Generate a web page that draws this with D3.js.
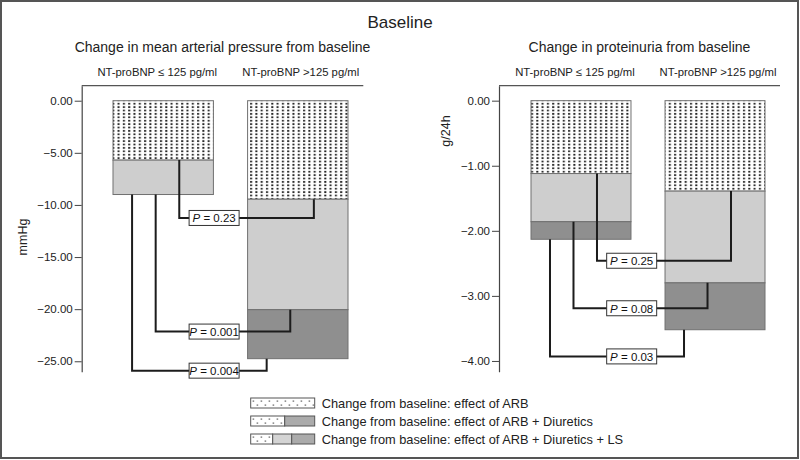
<!DOCTYPE html>
<html>
<head>
<meta charset="utf-8">
<script src="https://cdn.jsdelivr.net/npm/d3@7"></script>
<style>
  body { margin: 0; background: #fff; }
</style>
</head>
<body>
<div id="chart"></div>
<script>
// groups and legend entries
const groups = ["NT-proBNP \u2264 125 pg/ml", "NT-proBNP >125 pg/ml"];
const seriesNames = [
  "Change from baseline: effect of ARB",
  "Change from baseline: effect of ARB + Diuretics",
  "Change from baseline: effect of ARB + Diuretics + LS"
];

// mean arterial pressure (mmHg)
const mapArb = [-5.7, -9.45];
const mapArbDiu = [-9.0, -20.05];
const mapArbDiuLs = [-9.0, -24.75];
const mapTicks = [0, -5, -10, -15, -20, -25];
const mapP = ["0.23", "0.001", "0.004"];
const mapPLevels = [-11.25, -22.15, -25.9];

// proteinuria (g/24h)
const protArb = [-1.12, -1.39];
const protArbDiu = [-1.86, -2.8];
const protArbDiuLs = [-2.13, -3.52];
const protTicks = [0, -1, -2, -3, -4];
const protP = ["0.25", "0.08", "0.03"];
const protPLevels = [-2.46, -3.19, -3.93];

const fillColors = ["url(#dots)", "#cecece", "#8f8f8f"];

const svg = d3.select("#chart").append("svg")
  .attr("width", 800)
  .attr("height", 460)
  .style("font-family", "'Liberation Sans', Arial, sans-serif");

const defs = svg.append("defs");
const dots = defs.append("pattern")
  .attr("id", "dots")
  .attr("patternUnits", "userSpaceOnUse")
  .attr("width", 5.3).attr("height", 3.4);
dots.append("rect").attr("width", 5.3).attr("height", 3.4).attr("fill", "#fff");
dots.append("rect").attr("x", 1).attr("y", 0.8).attr("width", 2).attr("height", 1.8).attr("fill", "#262626");

const sparse = defs.append("pattern")
  .attr("id", "sparse")
  .attr("patternUnits", "userSpaceOnUse")
  .attr("width", 8).attr("height", 8);
sparse.append("rect").attr("width", 8).attr("height", 8).attr("fill", "#fff");
sparse.append("rect").attr("x", 2).attr("y", 2.5).attr("width", 1.2).attr("height", 1.2).attr("fill", "#333");
sparse.append("rect").attr("x", 6).attr("y", 6.5).attr("width", 1.2).attr("height", 1.2).attr("fill", "#333");

// outer frame
svg.append("rect")
  .attr("x", 1).attr("y", 1).attr("width", 797).attr("height", 457)
  .attr("fill", "none").attr("stroke", "#555").attr("stroke-width", 2);

svg.append("text")
  .attr("x", 400).attr("y", 28)
  .attr("text-anchor", "middle")
  .style("font-size", "17px").attr("fill", "#222")
  .text("Baseline");

function drawPanel(p) {
  const g = svg.append("g");

  const x = d3.scaleBand()
    .domain(groups)
    .range(p.band)
    .paddingInner(0.254)
    .paddingOuter(0);

  const y = d3.scaleLinear()
    .domain(p.domain)
    .range([85.7, 371.7]);

  // panel title and group labels
  g.append("text")
    .attr("x", (p.axisX + p.right) / 2).attr("y", 52.3)
    .attr("text-anchor", "middle")
    .style("font-size", "14px").attr("fill", "#222")
    .text(p.title);

  g.selectAll(".grp")
    .data(groups)
    .enter().append("text")
    .attr("class", "grp")
    .attr("x", (d, i) => x(d) + x.bandwidth() / 2 + (i === 0 ? -6 : 3))
    .attr("y", 76)
    .attr("text-anchor", "middle")
    .style("font-size", "11.3px").attr("fill", "#222")
    .text(d => d);

  // top frame line
  g.append("line")
    .attr("x1", p.axisX).attr("x2", p.right)
    .attr("y1", 85.7).attr("y2", 85.7)
    .attr("stroke", "#555").attr("stroke-width", 1.2);

  // y axis
  const ax = g.append("g")
    .attr("transform", "translate(" + p.axisX + ",0)")
    .call(d3.axisLeft(y)
      .tickValues(p.ticks)
      .tickFormat(d3.format(".2f"))
      .tickSize(7)
      .tickPadding(2)
      .tickSizeOuter(0));
  ax.select(".domain").attr("stroke", "#444").attr("stroke-width", 1.2);
  ax.selectAll(".tick line").attr("stroke", "#444");
  ax.selectAll("text").style("font-size", "11.5px").attr("fill", "#222")
    .style("font-family", "'Liberation Sans', Arial, sans-serif");

  g.append("text")
    .attr("transform", "translate(" + p.unitPos[0] + "," + p.unitPos[1] + ") rotate(-90)")
    .attr("text-anchor", "middle")
    .attr("dominant-baseline", "central")
    .style("font-size", "12.5px").attr("fill", "#222")
    .text(p.unit);

  // stacked bar segments
  const segs = [];
  groups.forEach((grp, i) => {
    const levels = [0, p.arb[i], p.arbDiu[i], p.arbDiuLs[i]];
    for (let k = 0; k < 3; k++) {
      segs.push({ grp: grp, k: k, top: levels[k], bottom: levels[k + 1] });
    }
  });

  g.selectAll(".seg")
    .data(segs.filter(d => d.bottom < d.top))
    .enter().append("rect")
    .attr("class", "seg")
    .attr("x", d => x(d.grp))
    .attr("width", x.bandwidth())
    .attr("y", d => y(d.top))
    .attr("height", d => y(d.bottom) - y(d.top))
    .attr("fill", d => fillColors[d.k])
    .attr("stroke", "#707070")
    .attr("stroke-width", 1);

  // comparison connectors
  const fracs = [0.66, 0.425, 0.19];
  const ends = [p.arb, p.arbDiu, p.arbDiuLs];
  const conn = p.pVals.map((v, k) => ({
    label: v,
    level: p.pLevels[k],
    x1: x(groups[0]) + fracs[k] * x.bandwidth(),
    x2: x(groups[1]) + fracs[k] * x.bandwidth(),
    y1: ends[k][0],
    y2: ends[k][1]
  }));

  g.selectAll(".conn")
    .data(conn)
    .enter().append("path")
    .attr("class", "conn")
    .attr("fill", "none")
    .attr("stroke", "#1c1c1c")
    .attr("stroke-width", 2)
    .attr("d", d => d3.line()([
      [d.x1, y(d.y1)], [d.x1, y(d.level)], [d.x2, y(d.level)], [d.x2, y(d.y2)]
    ]));

  const boxX = x(groups[0]) + x.bandwidth() + 0.7;
  const box = g.selectAll(".pbox")
    .data(conn)
    .enter().append("g")
    .attr("class", "pbox")
    .attr("transform", d => "translate(" + boxX + "," + y(d.level) + ")");
  box.append("rect")
    .attr("x", -25).attr("y", -7.5).attr("width", 50).attr("height", 15)
    .attr("fill", "#fff").attr("stroke", "#333").attr("stroke-width", 1);
  const t = box.append("text")
    .attr("text-anchor", "middle")
    .attr("dominant-baseline", "central")
    .attr("y", 0.5)
    .style("font-size", "11.5px").attr("fill", "#111");
  t.append("tspan").style("font-style", "italic").text("P");
  t.append("tspan").text(d => " = " + d.label);
}

drawPanel({
  title: "Change in mean arterial pressure from baseline",
  unit: "mmHg",
  unitPos: [23, 237],
  axisX: 81.7, right: 363.3,
  band: [113, 348],
  domain: [1.44, -26],
  ticks: mapTicks,
  arb: mapArb, arbDiu: mapArbDiu, arbDiuLs: mapArbDiuLs,
  pVals: mapP, pLevels: mapPLevels
});

drawPanel({
  title: "Change in proteinuria from baseline",
  unit: "g/24h",
  unitPos: [446, 131],
  axisX: 499, right: 780,
  band: [531, 765],
  domain: [0.23, -4.165],
  ticks: protTicks,
  arb: protArb, arbDiu: protArbDiu, arbDiuLs: protArbDiuLs,
  pVals: protP, pLevels: protPLevels
});

// legend
const legend = svg.append("g").attr("transform", "translate(250.7,398)");
const swatches = [
  [{ x: 0, w: 64, f: "url(#sparse)" }],
  [{ x: 0, w: 34, f: "url(#sparse)" }, { x: 34, w: 30, f: "#ababab" }],
  [{ x: 0, w: 22, f: "url(#sparse)" }, { x: 22, w: 19, f: "#d4d4d4" }, { x: 41, w: 23, f: "#ababab" }]
];
const rows = legend.selectAll(".row")
  .data(seriesNames)
  .enter().append("g")
  .attr("class", "row")
  .attr("transform", (d, i) => "translate(0," + (i * 18) + ")");
rows.each(function (d, i) {
  d3.select(this).selectAll("rect")
    .data(swatches[i])
    .enter().append("rect")
    .attr("x", s => s.x).attr("y", 0)
    .attr("width", s => s.w).attr("height", 10)
    .attr("fill", s => s.f)
    .attr("stroke", "#555").attr("stroke-width", 1);
});
rows.append("text")
  .attr("x", 71).attr("y", 9.8)
  .style("font-size", "12.8px").attr("fill", "#222")
  .text(d => d);
</script>
</body>
</html>
